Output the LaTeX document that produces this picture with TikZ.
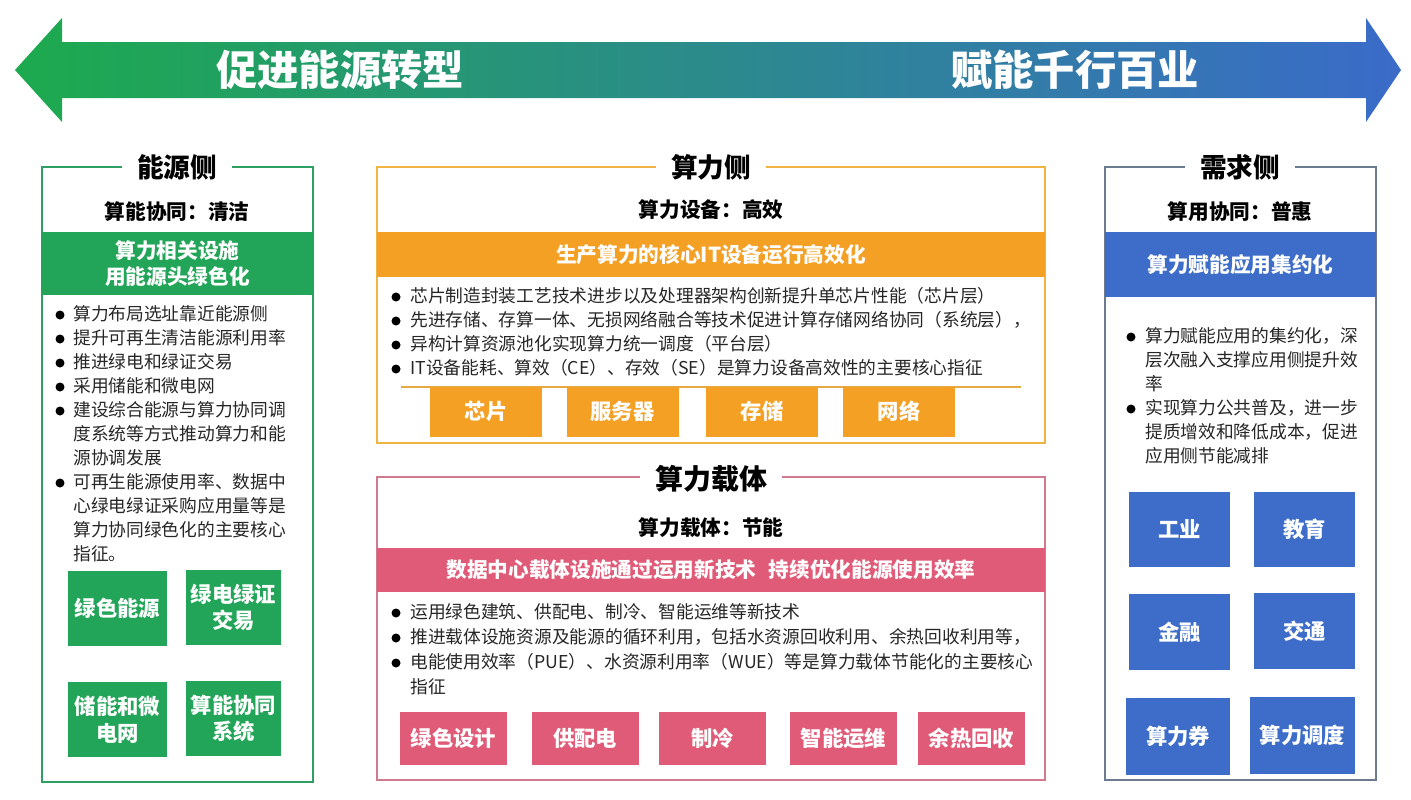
\documentclass[tikz,border=0pt]{standalone}
\usepackage{fontspec}
\setmainfont{Noto Sans CJK SC}
\newcommand{\px}{0.75pt}

\definecolor{arrgreen}{HTML}{1DAA4E}
\definecolor{arrteal}{HTML}{22A08C}
\definecolor{arrblue}{HTML}{3A6BC9}
\definecolor{egreen}{HTML}{22A558}
\definecolor{eborder}{HTML}{2E9E62}
\definecolor{corange}{HTML}{F4A025}
\definecolor{coborder}{HTML}{F0B445}
\definecolor{cpink}{HTML}{E05B78}
\definecolor{cpborder}{HTML}{CF7A8E}
\definecolor{dblue}{HTML}{3D6DC8}
\definecolor{dborder}{HTML}{6C7C8E}

\tikzset{
  panel/.style={draw=#1, line width=1.6pt},
  ptitle/.style={fill=white, inner xsep=11pt, inner ysep=1pt,
    font=\bfseries\fontsize{20}{24}\selectfont},
  subtitle/.style={font=\bfseries\fontsize{15.5}{18}\selectfont},
  bandtxt/.style={text=white, align=center,
    font=\bfseries\fontsize{15.5}{20}\selectfont},
  tag/.style n args={3}{fill=#1, text=white, align=center, inner sep=0pt,
    minimum width=#2*\px, minimum height=#3*\px,
    font=\bfseries\fontsize{16}{20}\selectfont},
  txt/.style={anchor=west, inner sep=0pt, text height=0.88em, text depth=0.12em,
    text=black!85, font=\fontsize{13.3}{16}\selectfont},
  bul/.style={circle, fill=black, inner sep=0pt, minimum size=9*\px}
}

\begin{document}
\begin{tikzpicture}[x=\px, y=-\px]
\useasboundingbox (0,0) rectangle (1411,800);

% top double arrow
\shade[left color=arrgreen, middle color=arrteal, right color=arrblue]
  (15,70) -- (62,18) -- (62,42) -- (1366,42) -- (1366,18) -- (1401,70)
  -- (1366,122) -- (1366,98) -- (62,98) -- (62,122) -- cycle;
\node[text=white, font=\bfseries\fontsize{31}{36}\selectfont] (goal1) at (340,70) {促进能源转型};
\node[text=white, font=\bfseries\fontsize{31}{36}\selectfont] (goal2) at (1075,70) {赋能千行百业};

% energy side
\draw[panel=eborder] (42,167) rectangle (313,782);
\node[ptitle] (etitle) at (177,167) {能源侧};
\node[subtitle] (esub) at (177,212) {算能协同：清洁};
\fill[egreen] (42,232) rectangle (313,295);
\node[bandtxt] (eband) at (177.5,263.5) {算力相关设施\\用能源头绿色化};
\foreach \t [count=\i] in {算力布局选址靠近能源侧, 提升可再生清洁能源利用率,
    推进绿电和绿证交易, 采用储能和微电网, 建设综合能源与算力协同调,
    度系统等方式推动算力和能, 源协调发展, 可再生能源使用率、数据中,
    心绿电绿证采购应用量等是, 算力协同绿色化的主要核心, 指征。}
  \node[txt] (e\i) at (73,{315+24*(\i-1)}) {\t};
\foreach \i in {1,2,3,4,5,8}
  \node[bul] (eb\i) at (60,{315+24*(\i-1)}) {};
\node[tag={egreen}{99}{75}] (etag1) at (117.5,608) {绿色能源};
\node[tag={egreen}{95}{75}] (etag2) at (233.5,607.5) {绿电绿证\\交易};
\node[tag={egreen}{99}{75}] (etag3) at (117.5,719.5) {储能和微\\电网};
\node[tag={egreen}{95}{75}] (etag4) at (233.5,718.5) {算能协同\\系统};

% computing side
\draw[panel=coborder] (377,167) rectangle (1045,443);
\node[ptitle] (ctitle) at (711,167) {算力侧};
\node[subtitle] (csub) at (711,210) {算力设备：高效};
\fill[corange] (377,232) rectangle (1045,277);
\node[bandtxt] (cband) at (711,254.5) {生产算力的核心IT设备运行高效化};
\foreach \t [count=\i] in {芯片制造封装工艺技术进步以及处理器架构创新提升单芯片性能（芯片层）,
    先进存储、存算一体、无损网络融合等技术促进计算存储网络协同（系统层）， ,
    异构计算资源池化实现算力统一调度（平台层）,
    IT设备能耗、算效（CE）、存效（SE）是算力设备高效性的主要核心指征}
{
  \node[txt] (c\i) at (410,{297+24*(\i-1)}) {\t};
  \node[bul] (cb\i) at (396,{297+24*(\i-1)}) {};
}
\draw[coborder!80!brown, line width=1pt] (401,387) -- (1021,387);
\node[tag={corange}{112}{50}] (ctag1) at (486,411.5) {芯片};
\node[tag={corange}{112}{50}] (ctag2) at (622.5,411.5) {服务器};
\node[tag={corange}{112}{50}] (ctag3) at (762,411.5) {存储};
\node[tag={corange}{112}{50}] (ctag4) at (899,411.5) {网络};

% computing carrier
\draw[panel=cpborder] (377,477) rectangle (1045,780);
\node[ptitle, font=\bfseries\fontsize{21}{24}\selectfont] (ptitle) at (711,479) {算力载体};
\node[subtitle] (psub) at (711,528) {算力载体：节能};
\fill[cpink] (377,548) rectangle (1045,592);
\node[bandtxt] (pband) at (711,570) {数据中心载体设施通过运用新技术\hspace{0.6em}持续优化能源使用效率};
\foreach \t [count=\i] in {运用绿色建筑、供配电、制冷、智能运维等新技术,
    推进载体设施资源及能源的循环利用，包括水资源回收利用、余热回收利用等，,
    电能使用效率（PUE）、水资源利用率（WUE）等是算力载体节能化的主要核心,
    指征}
  \node[txt] (p\i) at (410,{613+25*(\i-1)}) {\t};
\foreach \i in {1,2,3}
  \node[bul] (pb\i) at (396,{613+25*(\i-1)}) {};
\node[tag={cpink}{107}{53}] (ptag1) at (453.5,738.5) {绿色设计};
\node[tag={cpink}{107}{53}] (ptag2) at (585,738.5) {供配电};
\node[tag={cpink}{107}{53}] (ptag3) at (712.5,738.5) {制冷};
\node[tag={cpink}{107}{53}] (ptag4) at (843.5,738.5) {智能运维};
\node[tag={cpink}{107}{53}] (ptag5) at (971.5,738.5) {余热回收};

% demand side
\draw[panel=dborder] (1105,167) rectangle (1376,780);
\node[ptitle] (dtitle) at (1240,167) {需求侧};
\node[subtitle] (dsub) at (1240,212) {算用协同：普惠};
\fill[dblue] (1105,232) rectangle (1376,297);
\node[bandtxt] (dband) at (1240.5,264.5) {算力赋能应用集约化};
\foreach \t [count=\i] in {算力赋能应用的集约化，深, 层次融入支撑应用侧提升效, 率,
    实现算力公共普及，进一步, 提质增效和降低成本，促进, 应用侧节能减排}
  \node[txt] (d\i) at (1145,{337+24*(\i-1)}) {\t};
\foreach \i in {1,4}
  \node[bul] (db\i) at (1131,{337+24*(\i-1)}) {};
\node[tag={dblue}{101}{75}] (dtag1) at (1179.5,529.5) {工业};
\node[tag={dblue}{101}{75}] (dtag2) at (1304.5,529.5) {教育};
\node[tag={dblue}{101}{76}] (dtag3) at (1179.5,632) {金融};
\node[tag={dblue}{101}{76}] (dtag4) at (1304.5,631) {交通};
\node[tag={dblue}{104}{77}] (dtag5) at (1178,736.5) {算力券};
\node[tag={dblue}{105}{77}] (dtag6) at (1302.5,735.5) {算力调度};

\end{tikzpicture}
\end{document}
